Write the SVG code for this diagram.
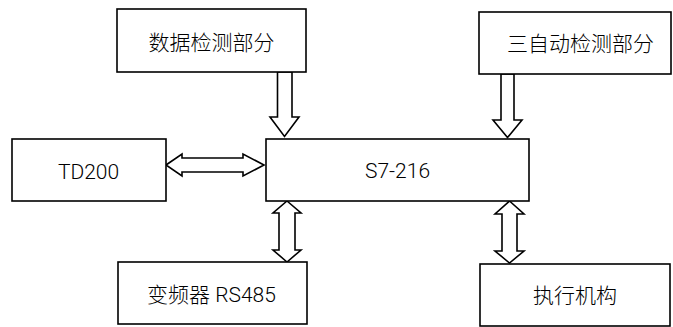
<svg xmlns="http://www.w3.org/2000/svg" width="673" height="327" viewBox="0 0 673 327">
<style>
.box{fill:#fff;stroke:#000;stroke-width:1.6}
.arr{fill:#fff;stroke:#000;stroke-width:1.6;stroke-linejoin:miter}
.t{font-family:Roboto,"Noto Sans CJK SC",sans-serif;font-size:21px;fill:#000;text-anchor:middle;font-weight:300}
</style>
<rect width="673" height="327" fill="#fff"/>
<g id="connectors">
<polygon class="arr" points="277.5,72 292,72 292,117 299,117 284.5,136.5 270,117 277.5,117"/>
<polygon class="arr" points="501,74 514,74 514,120 522,120 507.5,137.5 493,120 501,120"/>
<polygon class="arr" points="287,201 301,213 295,213 295,250 301,250 287,262 273,250 279,250 279,213 273,213"/>
<polygon class="arr" points="509.5,201 524,214 517,214 517,251 524,251 509.5,263 495,251 502,251 502,214 495,214"/>
<polygon class="arr" points="166,165 182,154 182,158 243,158 243,154 264,165 243,176 243,172 182,172 182,176"/>
</g>
<g id="n1"><rect class="box" x="117" y="9" width="189" height="63"/><text class="t" x="211.5" y="50">数据检测部分</text></g>
<g id="n2"><rect class="box" x="479" y="12" width="192" height="62"/><text class="t" x="580.5" y="51">三自动检测部分</text></g>
<g id="td200"><rect class="box" x="12" y="139" width="154" height="62"/><text class="t" x="88.5" y="178.5">TD200</text></g>
<g id="s7"><rect class="box" x="266" y="139" width="263" height="62"/><text class="t" x="397.5" y="178">S7-216</text></g>
<g id="vfd"><rect class="box" x="118" y="262" width="189" height="62"/><text class="t" x="211.5" y="301.5">变频器 RS485</text></g>
<g id="act"><rect class="box" x="480" y="264" width="190" height="62"/><text class="t" x="575" y="303">执行机构</text></g>
</svg>
